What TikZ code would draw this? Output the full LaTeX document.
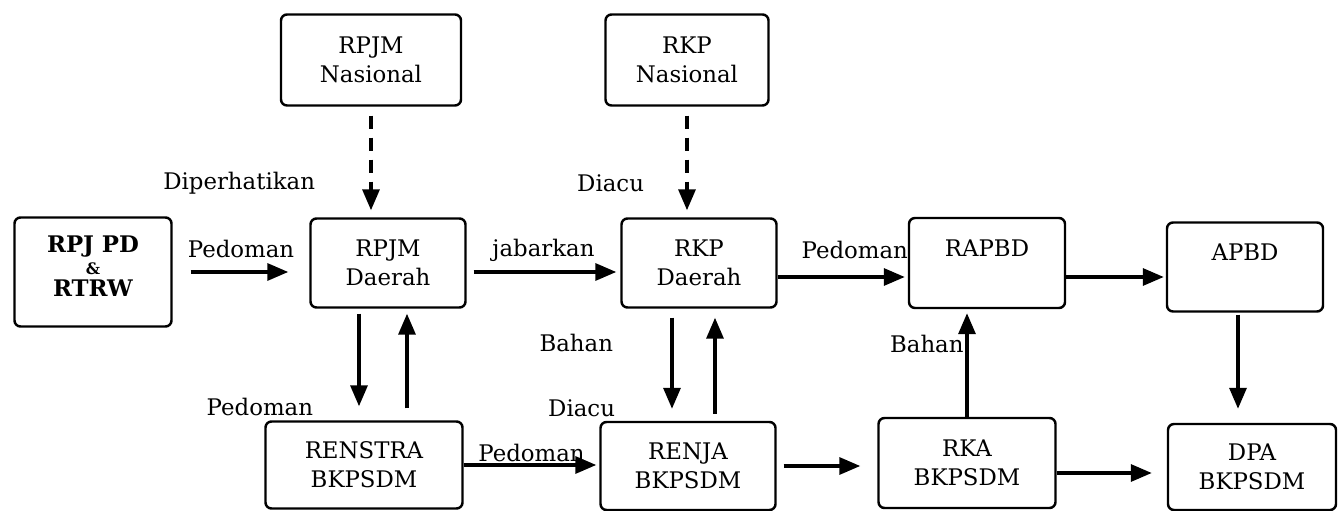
\documentclass[tikz,border=0pt]{standalone}
\usepackage{fontspec}
\setmainfont{DejaVu Serif}
\usetikzlibrary{arrows.meta}
\usetikzlibrary{positioning}
\tikzset{
    plan/.style={
           rectangle,
           rounded corners=0.12cm,
           draw=black, line width=1.4pt,
           minimum width=3.1cm,
           minimum height=1.78cm,
           inner sep=2pt,
           align=center,
           },
    guide/.style={dash pattern=on 0.26cm off 0.18cm},
}

\begin{document}
\begin{tikzpicture}[->,>={Triangle[length=0.42cm,width=0.34cm]},line width=1.9pt,
  font=\fontsize{13pt}{16.5pt}\selectfont]

 % page size of the reference
 \useasboundingbox (-1.86,5.44) rectangle (24.9,-4.78);

 % RPJ PD & RTRW at the origin
 \node[plan, minimum width=3.14cm, minimum height=2.18cm] (RPJPD)
 {\textbf{RPJ PD}\\[-4pt]{\fontsize{9pt}{9pt}\selectfont\textbf{\&}}\\[-4pt]\textbf{RTRW}\\[-10pt]\mbox{}};

 % upper row
 \node[plan,
  node distance=5.9cm,
  right of=RPJPD,
  yshift=0.18cm,
  anchor=center] (RPJMD)
 {RPJM\\Daerah};

 \node[plan,
  node distance=6.22cm,
  right of=RPJMD,
  anchor=center] (RKPD)
 {RKP\\Daerah};

 \node[plan,
  minimum width=3.12cm, minimum height=1.8cm,
  node distance=5.76cm,
  right of=RKPD,
  anchor=center] (RAPBD)
 {RAPBD\\ \mbox{}};

 \node[plan,
  minimum width=3.12cm,
  node distance=5.16cm,
  right of=RAPBD,
  yshift=-0.08cm,
  anchor=center] (APBD)
 {APBD\\ \mbox{}};

 % national plans on top
 \node[plan,
  minimum width=3.6cm, minimum height=1.82cm,
  node distance=4.06cm,
  above of=RPJMD,
  xshift=-0.34cm,
  anchor=center] (RPJMN)
 {RPJM\\Nasional};

 \node[plan,
  minimum width=3.26cm, minimum height=1.82cm,
  node distance=4.06cm,
  above of=RKPD,
  xshift=-0.24cm,
  anchor=center] (RKPN)
 {RKP\\Nasional};

 % lower row
 \node[plan,
  minimum width=3.94cm, minimum height=1.74cm,
  node distance=4.04cm,
  below of=RPJMD,
  xshift=-0.48cm,
  anchor=center] (RENSTRA)
 {RENSTRA\\BKPSDM};

 \node[plan,
  minimum width=3.5cm, minimum height=1.76cm,
  node distance=4.06cm,
  below of=RKPD,
  xshift=-0.22cm,
  anchor=center] (RENJA)
 {RENJA\\BKPSDM};

 \node[plan,
  minimum width=3.54cm, minimum height=1.8cm,
  node distance=4cm,
  below of=RAPBD,
  xshift=-0.4cm,
  anchor=center] (RKA)
 {RKA\\BKPSDM};

 \node[plan,
  minimum width=3.36cm, minimum height=1.72cm,
  node distance=4cm,
  below of=APBD,
  xshift=0.14cm,
  anchor=center] (DPA)
 {DPA\\BKPSDM};

 % dashed links from the national plans
 \path (RPJMN)  edge[guide, shorten <=0.18cm, shorten >=0.14cm]
                    node[pos=0.69, anchor=east, xshift=-0.97cm]{Diperhatikan} (RPJMN.south |- RPJMD.north)
 (RKPN)         edge[guide, shorten <=0.18cm, shorten >=0.14cm]
                    node[pos=0.69, anchor=east, xshift=-0.71cm]{Diacu} (RKPN.south |- RKPD.north);

 % upper row
 \path (RPJPD)  edge[shorten <=0.36cm, shorten >=0.42cm]
                    node[above, yshift=0.14cm]{Pedoman} ([yshift=-0.18cm]RPJMD.west)
 ([yshift=-0.18cm]RPJMD.east) edge[shorten <=0.14cm, shorten >=0.08cm]
                    node[above, yshift=0.06cm]{jabarkan} ([yshift=-0.18cm]RKPD.west)
 ([yshift=-0.28cm]RKPD.east)  edge[shorten >=0.06cm]
                    node[above, xshift=0.24cm, yshift=0.22cm]{Pedoman} ([yshift=-0.28cm]RAPBD.west)
 ([yshift=-0.28cm]RAPBD.east) edge[shorten >=0.04cm] ([yshift=-0.28cm]RAPBD.east -| APBD.west)
 ([xshift=-0.14cm]APBD.south) edge[shorten <=0.04cm, shorten >=0.28cm] ([xshift=-0.14cm]APBD.south |- DPA.north);

 % between the rows
 \path ([xshift=-0.58cm]RPJMD.south) edge[shorten <=0.1cm, shorten >=0.28cm]
                    node[pos=0.88, anchor=east, xshift=-0.77cm]{Pedoman} ([xshift=-0.58cm]RPJMD.south |- RENSTRA.north)
 ([xshift=0.38cm]RPJMD.south |- RENSTRA.north) edge[shorten <=0.24cm, shorten >=0.1cm] ([xshift=0.38cm]RPJMD.south)
 ([xshift=-0.54cm]RKPD.south) edge[shorten <=0.18cm, shorten >=0.24cm]
                    node[pos=0.31, anchor=east, xshift=-1.03cm]{Bahan}
                    node[pos=0.89, anchor=east, xshift=-0.99cm]{Diacu} ([xshift=-0.54cm]RKPD.south |- RENJA.north)
 ([xshift=0.32cm]RKPD.south |- RENJA.north) edge[shorten <=0.14cm, shorten >=0.18cm] ([xshift=0.32cm]RKPD.south)
 (RKA.north)    edge[shorten >=0.08cm]
                    node[pos=0.68, anchor=east, inner sep=1pt]{Bahan} (RKA.north |- RAPBD.south);

 % lower row
 \path (RENSTRA) edge[shorten >=0.06cm] node[above, inner sep=1pt]{Pedoman} (RENSTRA -| RENJA.west)
 (RENJA)        edge[shorten <=0.14cm, shorten >=0.34cm] (RENJA -| RKA.west)
 ([yshift=-0.2cm]RKA.east) edge[shorten >=0.3cm] ([yshift=-0.2cm]RKA.east -| DPA.west);

\end{tikzpicture}
\end{document}
